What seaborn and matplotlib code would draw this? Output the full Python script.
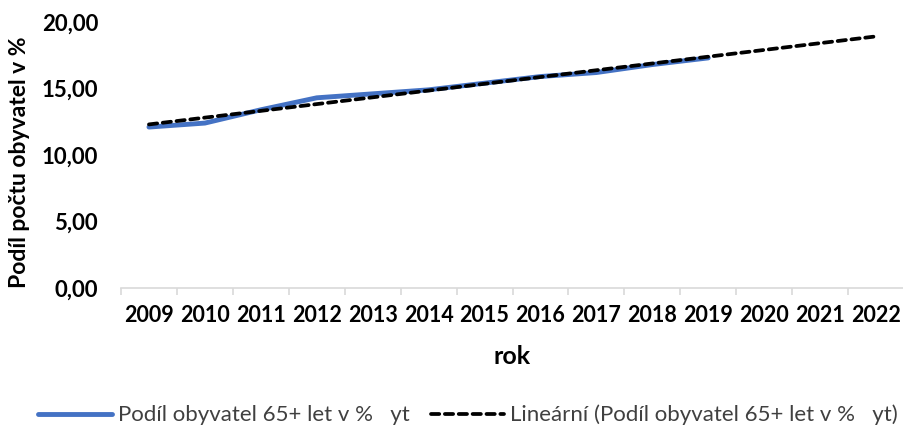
import numpy as np
import pandas as pd
import matplotlib
matplotlib.use("Agg")
import matplotlib.pyplot as plt
import seaborn as sns

years = [2009, 2010, 2011, 2012, 2013, 2014, 2015, 2016, 2017, 2018, 2019]
share = [12.1, 12.4, 13.4, 14.3, 14.6, 14.9, 15.4, 15.9, 16.2, 16.8, 17.3]
trend_years = list(range(2009, 2023))
series_label = "Podíl obyvatel 65+ let v %   yt"
trend_label = "Lineární (Podíl obyvatel 65+ let v %   yt)"
y_ticks = [0, 5, 10, 15, 20]

sns.set_theme(style="white")
plt.rcParams['font.family'] = ['Lato', 'DejaVu Sans']

fig = plt.figure(figsize=(9.04, 4.28), dpi=100)
W, H = 904, 428
ax = fig.add_axes([121 / W, (H - 288) / H, (904 - 121) / W, (288 - 22) / H])

df = pd.DataFrame({"rok": years, "podil": share})
coef = np.polyfit(years, share, 1)
tdf = pd.DataFrame({"rok": trend_years, "podil": np.polyval(coef, trend_years)})

sns.lineplot(data=df, x="rok", y="podil", ax=ax, color="#4472C4", linewidth=3.5,
             label=series_label, solid_capstyle="round")
sns.lineplot(data=tdf, x="rok", y="podil", ax=ax, color="black", linewidth=2.7,
             label=trend_label, dashes=False)
ax.lines[1].set_dashes((2.2, 1.5))
ax.lines[1].set_dash_capstyle("round")

ax.set_xlim(2008.5, 2022.5)
ax.set_ylim(0, 20)
ax.set_xticks(trend_years)
ax.set_xticklabels([str(y) for y in trend_years], fontsize=15.5, fontweight="bold", color="black")
ax.set_xticks(np.arange(2008.5, 2023, 1), minor=True)
ax.tick_params(axis="x", which="major", length=0, pad=12)
ax.tick_params(axis="x", which="minor", length=5, width=1.2, color="#D9D9D9", bottom=True)
ax.set_yticks(y_ticks)
ax.set_yticklabels([f"{v:.2f}".replace(".", ",") for v in y_ticks], fontsize=16,
                   fontweight="bold", color="black")
ax.tick_params(axis="y", length=0, pad=16.5)

for s in ["top", "right", "left"]:
    ax.spines[s].set_visible(False)
ax.spines["bottom"].set_color("#D9D9D9")
ax.spines["bottom"].set_linewidth(1.2)
ax.grid(False)

ax.set_xlabel("rok", fontsize=18, fontweight="bold", color="black", labelpad=14)
ax.set_ylabel("")
fig.text(20 / W, (H - 162) / H, "Podíl počtu obyvatel v %", rotation=90, fontsize=16.5,
         fontweight="bold", color="black", ha="center", va="center")

ax.get_legend().remove()
h, l = ax.get_legend_handles_labels()
fig.legend(h, l, loc="center", bbox_to_anchor=(468 / W, (H - 415) / H), ncol=2,
           frameon=False, fontsize=16, handlelength=3.3, handletextpad=0.27,
           columnspacing=0.95, labelcolor="#404040")

fig.savefig("out.png", dpi=100)
